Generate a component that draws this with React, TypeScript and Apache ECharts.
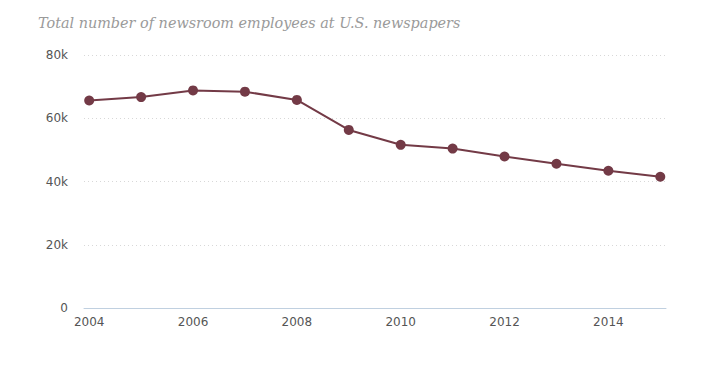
import React, { useEffect, useRef } from "react";
import * as echarts from "echarts";

const years = [2004, 2005, 2006, 2007, 2008, 2009, 2010, 2011, 2012, 2013, 2014, 2015];
const employees = [65600, 66700, 68800, 68400, 65800, 56300, 51600, 50400, 47900, 45600, 43400, 41500];
const xTicks = [2004, 2006, 2008, 2010, 2012, 2014];
const yTicks = [0, 20000, 40000, 60000, 80000];
const title = "Total number of newsroom employees at U.S. newspapers";

export default function App() {
  const ref = useRef<HTMLDivElement>(null);
  useEffect(() => {
    const chart = echarts.init(ref.current!, null, { renderer: "svg" });
    chart.setOption({
      animation: false,
      title: {
        text: title,
        left: 25,
        top: 3,
        textStyle: {
          fontFamily: "DejaVu Serif",
          fontStyle: "italic",
          fontWeight: "normal",
          fontSize: 14.4,
          color: "#9a9a9a",
        },
      },
      grid: { left: 76, right: 53, top: 47, bottom: 54, containLabel: false },
      xAxis: {
        type: "value",
        min: 2003.9,
        max: 2015.11,
        axisLine: { show: true, lineStyle: { color: "#c0d0e0", width: 1 } },
        axisTick: { show: false },
        splitLine: { show: false },
        axisLabel: {
          customValues: xTicks,
          color: "#555555",
          fontFamily: "DejaVu Sans",
          fontSize: 12,
          margin: 8,
          formatter: (v: number) => String(v),
        },
      },
      yAxis: {
        type: "value",
        min: 0,
        max: 80000,
        interval: 20000,
        axisLine: { show: false },
        axisTick: { show: false },
        splitLine: { show: true, lineStyle: { color: "#d8d8d8", type: [1, 3], width: 1 } },
        axisLabel: {
          customValues: yTicks,
          color: "#555555",
          fontFamily: "DejaVu Sans",
          fontSize: 12,
          margin: 16,
          formatter: (v: number) => (v === 0 ? "0" : v / 1000 + "k"),
        },
      },
      series: [
        {
          type: "line",
          data: years.map((y, i) => [y, employees[i]]),
          symbol: "circle",
          symbolSize: 10,
          lineStyle: { color: "#733a46", width: 2 },
          itemStyle: { color: "#733a46" },
        },
      ],
    });
    return () => chart.dispose();
  }, []);
  return <div ref={ref} style={{ width: 711, height: 354 }} />;
}
